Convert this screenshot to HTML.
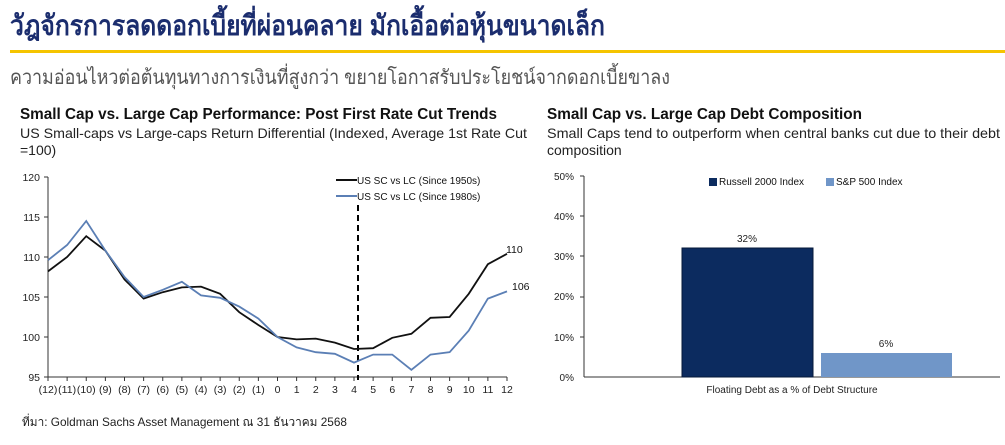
<!DOCTYPE html>
<html><head><meta charset="utf-8"><style>
html,body{margin:0;padding:0;background:#fff;}
svg{display:block;font-family:"Liberation Sans Narrow","Liberation Sans","DejaVu Sans",sans-serif;}
</style></head><body>
<svg width="1005" height="445" viewBox="0 0 1005 445" xmlns="http://www.w3.org/2000/svg">
<text x="10" y="35" font-size="28" font-weight="bold" fill="#1b2d6e" textLength="595" lengthAdjust="spacingAndGlyphs">วัฎจักรการลดดอกเบี้ยที่ผ่อนคลาย มักเอื้อต่อหุ้นขนาดเล็ก</text>
<rect x="10" y="50" width="995" height="3" fill="#f5c400"/>
<text x="10" y="84" font-size="20" fill="#555" textLength="660" lengthAdjust="spacingAndGlyphs">ความอ่อนไหวต่อต้นทุนทางการเงินที่สูงกว่า ขยายโอกาสรับประโยชน์จากดอกเบี้ยขาลง</text>

<text x="20" y="119" font-size="16" font-weight="bold" fill="#111" textLength="477" lengthAdjust="spacingAndGlyphs">Small Cap vs. Large Cap Performance: Post First Rate Cut Trends</text>
<text x="20" y="138" font-size="14" fill="#222" textLength="507" lengthAdjust="spacingAndGlyphs">US Small-caps vs Large-caps Return Differential (Indexed, Average 1st Rate Cut</text>
<text x="20" y="155" font-size="14" fill="#222">=100)</text>
<text x="547" y="119" font-size="16" font-weight="bold" fill="#111" textLength="315" lengthAdjust="spacingAndGlyphs">Small Cap vs. Large Cap Debt Composition</text>
<text x="547" y="138" font-size="14" fill="#222" textLength="453" lengthAdjust="spacingAndGlyphs">Small Caps tend to outperform when central banks cut due to their debt</text>
<text x="547" y="155" font-size="14" fill="#222">composition</text>

<!-- left chart -->
<g font-size="10.5" fill="#222" text-anchor="end">
<text x="40" y="181">120</text><text x="40" y="221">115</text><text x="40" y="261">110</text>
<text x="40" y="301">105</text><text x="40" y="341">100</text><text x="40" y="381">95</text>
</g>
<g stroke="#333" stroke-width="1">
<line x1="48" y1="177" x2="48" y2="377"/>
<line x1="48" y1="377" x2="507" y2="377"/>
<line x1="44" y1="177" x2="48" y2="177"/><line x1="44" y1="217" x2="48" y2="217"/>
<line x1="44" y1="257" x2="48" y2="257"/><line x1="44" y1="297" x2="48" y2="297"/>
<line x1="44" y1="337" x2="48" y2="337"/><line x1="44" y1="377" x2="48" y2="377"/>
</g>
<g id="xt" font-size="10.5" fill="#222" text-anchor="middle"></g>
<line x1="358" y1="205" x2="358" y2="380" stroke="#000" stroke-width="2" stroke-dasharray="6,4"/>
<polyline id="blk" fill="none" stroke="#111" stroke-width="1.8"/>
<polyline id="blu" fill="none" stroke="#5b7fb5" stroke-width="1.8"/>
<line x1="336" y1="180" x2="357" y2="180" stroke="#111" stroke-width="2"/>
<text x="357" y="184" font-size="10" fill="#111">US SC vs LC (Since 1950s)</text>
<line x1="336" y1="196" x2="357" y2="196" stroke="#5b7fb5" stroke-width="2"/>
<text x="357" y="200" font-size="10" fill="#111">US SC vs LC (Since 1980s)</text>
<text x="506" y="253" font-size="10.5" fill="#111">110</text>
<text x="512" y="290" font-size="10.5" fill="#111">106</text>

<!-- right chart -->
<g font-size="10" fill="#222" text-anchor="end">
<text x="574" y="180">50%</text><text x="574" y="220">40%</text><text x="574" y="260">30%</text>
<text x="574" y="300">20%</text><text x="574" y="341">10%</text><text x="574" y="381">0%</text>
</g>
<g stroke="#333" stroke-width="1">
<line x1="584" y1="176" x2="584" y2="377"/>
<line x1="584" y1="377" x2="1000" y2="377"/>
<line x1="580" y1="176" x2="584" y2="176"/><line x1="580" y1="216" x2="584" y2="216"/>
<line x1="580" y1="256" x2="584" y2="256"/><line x1="580" y1="297" x2="584" y2="297"/>
<line x1="580" y1="337" x2="584" y2="337"/>
</g>
<rect x="682" y="248" width="131" height="129" fill="#0c2b5f" stroke="#06183a" stroke-width="1"/>
<rect x="821" y="353" width="131" height="24" fill="#7096c8"/>
<text x="747" y="242" font-size="10" fill="#222" text-anchor="middle">32%</text>
<text x="886" y="347" font-size="10" fill="#222" text-anchor="middle">6%</text>
<rect x="709" y="178" width="8" height="8" fill="#0c2b5f"/>
<text x="719" y="185" font-size="10" fill="#111">Russell 2000 Index</text>
<rect x="826" y="178" width="8" height="8" fill="#7096c8"/>
<text x="836" y="185" font-size="10" fill="#111">S&amp;P 500 Index</text>
<text x="792" y="393" font-size="10" fill="#222" text-anchor="middle">Floating Debt as a % of Debt Structure</text>

<text x="22" y="426" font-size="12" fill="#222" textLength="325" lengthAdjust="spacingAndGlyphs">ที่มา: Goldman Sachs Asset Management ณ 31 ธันวาคม 2568</text>
</svg>
<script>
var b=[108.2,110,112.6,110.8,107.2,104.8,105.6,106.2,106.3,105.4,103.1,101.5,100,99.7,99.8,99.3,98.5,98.6,99.9,100.4,102.4,102.5,105.4,109.1,110.4];
var u=[109.6,111.5,114.5,110.8,107.5,105,105.9,106.9,105.2,104.9,103.8,102.3,100,98.7,98.1,97.9,96.8,97.8,97.8,95.9,97.8,98.1,100.8,104.8,105.7];
function X(i){return 48+i*19.125;}function Y(v){return 377-(v-95)*8;}
document.getElementById('blk').setAttribute('points',b.map(function(v,i){return X(i)+','+Y(v)}).join(' '));
document.getElementById('blu').setAttribute('points',u.map(function(v,i){return X(i)+','+Y(v)}).join(' '));
var g=document.getElementById('xt'),ns='http://www.w3.org/2000/svg';
for(var i=0;i<25;i++){var n=i-12;var t=document.createElementNS(ns,'text');t.setAttribute('x',X(i));t.setAttribute('y',393);t.textContent=n<0?'('+(-n)+')':n;g.appendChild(t);
var l=document.createElementNS(ns,'line');l.setAttribute('x1',X(i));l.setAttribute('x2',X(i));l.setAttribute('y1',377);l.setAttribute('y2',381);l.setAttribute('stroke','#333');g.appendChild(l);}
</script>
</body></html>
